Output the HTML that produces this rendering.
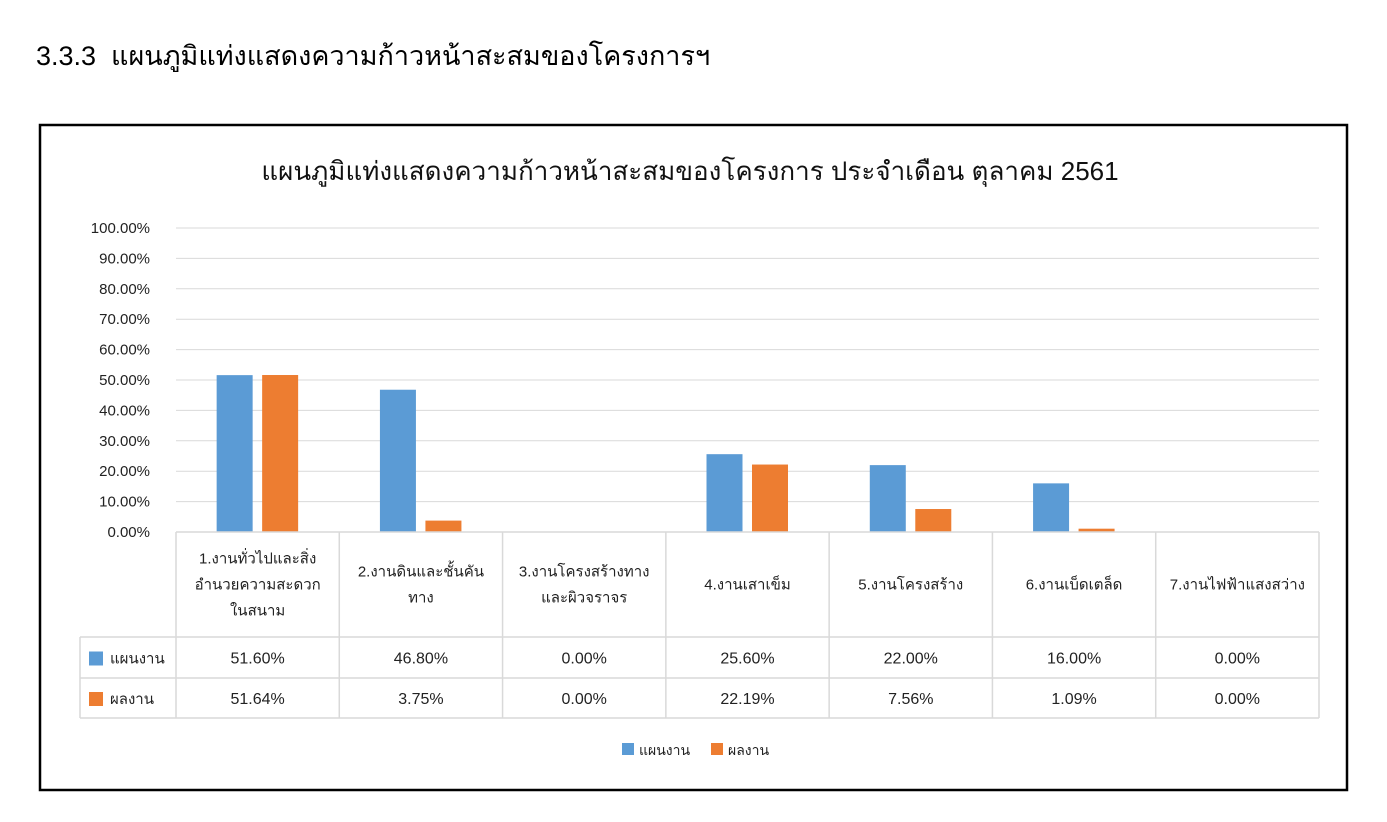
<!DOCTYPE html>
<html><head><meta charset="utf-8">
<style>
body{margin:0;background:#fff;width:1387px;height:822px;overflow:hidden;font-family:"Liberation Sans","DejaVu Sans",sans-serif}
</style></head><body>
<div style="position:absolute;left:36px;top:34px;font-size:27px;color:#000">3.3.3&nbsp; แผนภูมิแท่งแสดงความก้าวหน้าสะสมของโครงการฯ</div>
<svg id="chart" width="1387" height="822" style="position:absolute;left:0;top:0" font-family="Liberation Sans, DejaVu Sans, sans-serif">
<rect x="40" y="125" width="1307" height="665" fill="none" stroke="#000" stroke-width="2.5"/>
<text x="690" y="180" font-size="26" text-anchor="middle" fill="#111">แผนภูมิแท่งแสดงความก้าวหน้าสะสมของโครงการ ประจำเดือน ตุลาคม 2561</text>
<g id="g"></g>
</svg>
<script>
const categories=["1.งานทั่วไปและสิ่ง|อำนวยความสะดวก|ในสนาม","2.งานดินและชั้นคัน|ทาง","3.งานโครงสร้างทาง|และผิวจราจร","4.งานเสาเข็ม","5.งานโครงสร้าง","6.งานเบ็ดเตล็ด","7.งานไฟฟ้าแสงสว่าง"];
const planValues=[51.60,46.80,0.00,25.60,22.00,16.00,0.00];
const actualValues=[51.64,3.75,0.00,22.19,7.56,1.09,0.00];
const yTicks=[0,10,20,30,40,50,60,70,80,90,100];
const seriesNames=["แผนงาน","ผลงาน"];
const colors=["#5b9bd5","#ed7d31"];
const NS="http://www.w3.org/2000/svg",g=document.getElementById('g');
const X0=176,X1=1319,Y0=532,Y1=228;
const cw=(X1-X0)/categories.length;
const y=v=>Y0-(v/100)*(Y0-Y1);
const cx=i=>X0+cw*(i+0.5);
function mk(t,a,txt){const e=document.createElementNS(NS,t);for(const k in a)e.setAttribute(k,a[k]);if(txt!==undefined)e.textContent=txt;g.appendChild(e);return e;}
yTicks.forEach(t=>{
 const l=mk('line',{x1:X0,x2:X1,y1:y(t),y2:y(t),stroke:'#d9d9d9','stroke-width':1});
 
 
 const tx=mk('text',{x:150,y:y(t)+5,'font-size':15,'text-anchor':'end',fill:'#222'},t.toFixed(2)+'%');
 
 
});
const series=[planValues,actualValues];
series.forEach((vals,s)=>vals.forEach((v,i)=>{
 const bx=s===0?cx(i)-41:cx(i)+4.5;
 const r=mk('rect',{x:bx,y:y(v),width:36,height:Y0-y(v),fill:colors[s]});
 
 
}));
// table
const TL=80,R1=637,R2=678,R3=718;
const lineC='#d9d9d9';
function ln(x1,y1,x2,y2){const l=mk('line',{x1,y1,x2,y2,stroke:lineC,'stroke-width':1.5});}
ln(X0,Y0,X1,Y0);ln(TL,R1,X1,R1);ln(TL,R2,X1,R2);ln(TL,R3,X1,R3);
ln(TL,R1,TL,R3);
for(let i=0;i<=categories.length;i++)ln(X0+cw*i,Y0,X0+cw*i,R3);
categories.forEach((c,i)=>{
 const parts=c.split('|');const lh=26;const start=(Y0+R1)/2-(parts.length-1)*lh/2+5;
 parts.forEach((p,j)=>{const t=mk('text',{x:cx(i),y:start+j*lh,'font-size':15,'text-anchor':'middle',fill:'#222'},p);
 
 });
});
[[R1,R2],[R2,R3]].forEach(([a,b],s)=>{
 const k=mk('rect',{x:89,y:(a+b)/2-6,width:14,height:14,fill:colors[s]});
 
 
 const t=mk('text',{x:110,y:(a+b)/2+6,'font-size':15,fill:'#222'},seriesNames[s]);
 
 
 series[s].forEach((v,i)=>{const tv=mk('text',{x:cx(i),y:(a+b)/2+6,'font-size':16,'text-anchor':'middle',fill:'#222'},v.toFixed(2)+'%');
 
 });
});
[[622,0],[711,1]].forEach(([lx,s])=>{
 const k=mk('rect',{x:lx,y:743,width:12,height:12,fill:colors[s]});
 
 
 const t=mk('text',{x:lx+17,y:755,'font-size':14,fill:'#222'},seriesNames[s]);
 
 
});
</script>
</body></html>
